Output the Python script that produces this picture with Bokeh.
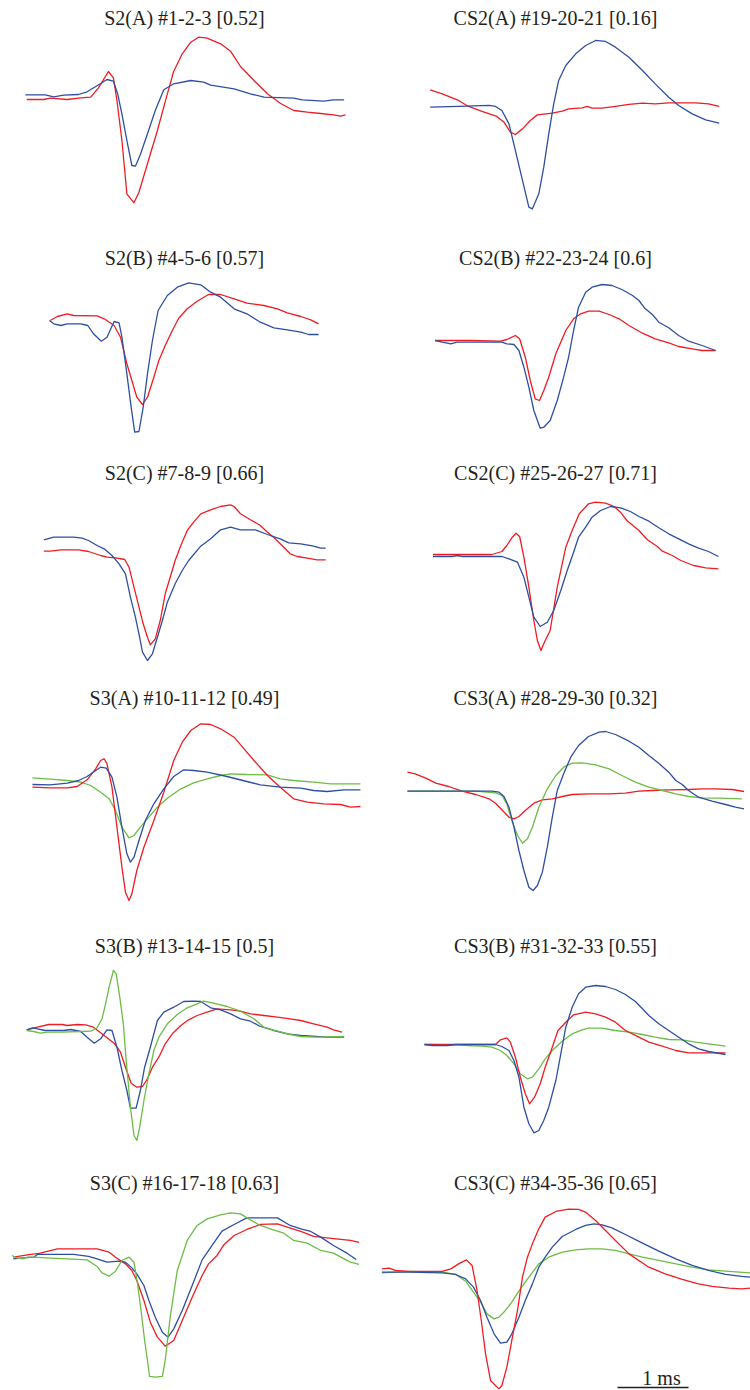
from bokeh.plotting import figure
from bokeh.models import Label, Range1d
from bokeh.layouts import column, row
from bokeh.embed import file_html
from bokeh.resources import INLINE

# ---------------- data: time in ms, amplitude in arbitrary units (µV-like) ----------------
titles = ["S2(A) #1-2-3 [0.52]", "CS2(A) #19-20-21 [0.16]",
          "S2(B) #4-5-6 [0.57]", "CS2(B) #22-23-24 [0.6]",
          "S2(C) #7-8-9 [0.66]", "CS2(C) #25-26-27 [0.71]",
          "S3(A) #10-11-12 [0.49]", "CS3(A) #28-29-30 [0.32]",
          "S3(B) #13-14-15 [0.5]", "CS3(B) #31-32-33 [0.55]",
          "S3(C) #16-17-18 [0.63]", "CS3(C) #34-35-36 [0.65]"]

# S2(A)
s2a_blue_t = [0.35,0.63,0.75,0.89,1.10,1.22,1.36,1.50,1.59,1.65,1.71,1.78,1.85,1.90,1.97,2.07,2.18,2.30,2.44,2.68,2.86,2.96,3.29,3.52,3.71,4.13,4.25,4.55,4.69,4.84]
s2a_blue_v = [0.7,0.7,-1.3,0.3,1.0,3.7,9.7,16,14.3,1.7,-18.3,-45,-70,-70.7,-59,-38.3,-15,5.7,11.7,15,13.3,10.3,6.7,1.7,-1.7,-2.7,-4.3,-5.7,-4.3,-4.3]
s2a_red_t = [0.37,0.61,0.70,0.94,1.13,1.27,1.38,1.52,1.59,1.64,1.71,1.78,1.88,1.95,2.07,2.21,2.35,2.44,2.56,2.68,2.79,2.91,3.10,3.24,3.38,3.57,3.76,3.94,4.13,4.32,4.51,4.69,4.79,4.86]
s2a_red_v = [-4,-4,-2.7,-4,-2.3,-1.7,7.7,24,17.7,-5,-45,-98.3,-107.3,-96.7,-68.3,-35,1.7,24.3,41.7,53.3,58.3,57.3,51.7,44.3,29,15,1.7,-7.7,-15,-16.7,-18,-19.3,-20.7,-19.3]

# CS2(A)
cs2a_blue_t = [0.77,1.17,1.60,1.69,1.78,1.88,1.97,2.07,2.16,2.21,2.30,2.37,2.44,2.51,2.58,2.68,2.82,2.96,3.10,3.24,3.38,3.57,3.76,3.94,4.13,4.27,4.46,4.65,4.84]
cs2a_blue_v = [0,0.7,1.7,0.7,-3.3,-16.7,-43.3,-73.3,-100,-101.7,-86.7,-60,-26.7,3.3,26.7,41.7,53.3,61.7,66.7,65.7,60,50,36.7,23.3,10,1.7,-6.7,-12.7,-16]
cs2a_red_t = [0.77,0.94,1.17,1.31,1.50,1.71,1.81,1.90,1.97,2.07,2.18,2.28,2.49,2.63,2.72,2.91,2.98,3.05,3.19,3.38,3.57,3.76,3.94,4.13,4.51,4.69,4.84]
cs2a_red_v = [17.3,13.3,6.7,0.7,-4.3,-9.3,-15,-25,-27.3,-21.7,-13.3,-7.7,-6,-4,-1.7,-0.7,0.7,-1,-1,0.7,2.7,4,3.3,4.3,4.3,3.3,0.7]

# S2(B)
s2b_blue_t = [0.69,0.75,0.85,0.94,1.13,1.23,1.31,1.42,1.50,1.60,1.67,1.71,1.78,1.84,1.89,1.95,2.01,2.07,2.14,2.22,2.35,2.49,2.65,2.82,2.96,3.10,3.29,3.47,3.66,3.85,4.04,4.23,4.34,4.48]
s2b_blue_v = [0,-3.3,-5,-3.3,-3.3,-5,-13.3,-20.7,-16.7,-1,-2.3,-16.7,-53.3,-86.7,-111.7,-111,-86.7,-53.3,-20,10,25,33.3,37.7,35.7,28.3,23.3,11.7,6.7,-1.7,-7.3,-9.3,-11.7,-14,-14]
s2b_red_t = [0.70,0.80,0.94,1.03,1.36,1.46,1.60,1.69,1.78,1.85,1.92,2.00,2.07,2.16,2.23,2.32,2.42,2.51,2.63,2.77,2.93,3.10,3.29,3.47,3.71,3.90,4.04,4.23,4.37,4.48]
s2b_red_v = [0,4,6.7,5,4.7,1.7,-5,-16.7,-43.3,-60,-76.7,-84,-76.7,-56.7,-40,-25,-10,2.3,11.7,19.3,26,26,21.7,17.3,15,11.7,7.7,4,0.7,-3.3]

# CS2(B)
cs2b_blue_t = [0.84,0.94,1.06,1.15,1.78,1.85,1.95,2.02,2.09,2.16,2.23,2.32,2.37,2.46,2.56,2.65,2.72,2.79,2.86,2.96,3.05,3.19,3.33,3.47,3.62,3.71,3.80,3.90,3.99,4.13,4.27,4.41,4.60,4.79]
cs2b_blue_v = [0,-1.7,-3.3,-1.7,-1.7,-3.3,-4,-10,-26.7,-46.7,-70,-87.7,-86.7,-80,-60,-36.7,-16.7,10,33.3,48.3,53.3,56,55,51,45,40,31.7,26,18.3,12.7,5,-0.7,-5,-10]
cs2b_red_t = [0.84,1.34,1.76,1.85,1.97,2.03,2.11,2.18,2.25,2.31,2.37,2.44,2.54,2.68,2.79,2.89,3.00,3.15,3.29,3.43,3.57,3.76,3.94,4.13,4.27,4.46,4.60,4.79]
cs2b_red_v = [0,0,-0.7,1,5,1.7,-16.7,-40,-58.3,-60,-50,-36.7,-13.3,10,21.7,26.7,29.3,29.3,26,21.7,15,7.3,1.7,-2.3,-6,-8.3,-10,-10]

# S2(C)
s2c_blue_t = [0.61,0.75,1.03,1.15,1.24,1.36,1.46,1.57,1.67,1.76,1.83,1.90,1.95,2.00,2.07,2.14,2.21,2.28,2.35,2.46,2.56,2.65,2.82,2.96,3.10,3.24,3.38,3.59,3.76,3.94,4.06,4.23,4.41,4.51,4.58]
s2c_blue_v = [10.7,13.3,13.3,12.3,10,5,1.7,-5,-13.3,-23.3,-46.7,-66.7,-83.3,-101.7,-110,-103.3,-86.7,-70,-51.7,-33.3,-20,-10,4.3,11.7,20.7,23.3,20.7,20.7,16,11.7,7.7,6.7,4.3,2.3,2.3]
s2c_red_t = [0.61,0.70,0.85,1.10,1.24,1.41,1.50,1.62,1.75,1.81,1.88,1.95,2.01,2.07,2.11,2.18,2.25,2.32,2.39,2.46,2.54,2.63,2.72,2.82,2.96,3.10,3.24,3.29,3.38,3.52,3.66,3.76,3.87,3.99,4.08,4.18,4.32,4.46,4.58]
s2c_red_v = [-0.7,-0.7,0.7,0.7,-1,-5,-6.7,-7.3,-9,-16.7,-36.7,-56.7,-73.3,-86.7,-94.3,-88.3,-70,-43.3,-26.7,-10,5,20,28.3,36.7,40.7,44,45.7,44,36.7,30.7,25,18.3,11.7,3.3,-3.3,-6,-7.7,-9.3,-9.3]

# CS2(C)
cs2c_blue_t = [0.81,1.08,1.15,1.23,1.78,1.88,2.00,2.09,2.16,2.23,2.32,2.42,2.51,2.61,2.70,2.79,2.86,2.96,3.05,3.17,3.31,3.45,3.59,3.71,3.85,3.99,4.13,4.27,4.41,4.55,4.69,4.83]
cs2c_blue_v = [-1,-1,0,-1,-1,-3.3,-6.7,-21.7,-41.7,-61.7,-71,-66.7,-55,-35,-15,3.3,18.3,28.3,38.3,45,49,47.7,44,39,34.3,27.7,21.7,16.7,11.7,7.3,4,-1]
cs2c_red_t = [0.81,1.64,1.78,1.85,1.92,1.98,2.03,2.09,2.16,2.23,2.28,2.33,2.39,2.46,2.56,2.68,2.77,2.87,3.00,3.10,3.24,3.36,3.45,3.54,3.71,3.83,3.97,4.04,4.18,4.30,4.48,4.65,4.83]
cs2c_red_v = [1,1,4,10,17.7,22.3,19,-1.7,-31.7,-65,-85,-95,-85,-75,-31.7,8.3,25,41.7,51.7,53.3,52.3,49,43.3,35,25,15.7,9,4.3,0,-5,-10,-12.3,-13.3]

# S3(A)
s3a_blue_t = [0.45,0.70,0.94,1.10,1.22,1.34,1.41,1.49,1.57,1.64,1.71,1.78,1.83,1.88,1.95,2.04,2.16,2.30,2.44,2.58,2.72,2.91,3.19,3.47,3.66,3.94,4.23,4.41,4.60,4.84,5.07]
s3a_blue_v = [1,0.7,2.3,5,9,15,18.3,17.3,8.3,-11.7,-41.7,-68.3,-76.7,-71.7,-55,-35,-18.3,-3.3,9,15.7,15,13.3,9,4,0.7,-1.7,-2.7,-5,-6,-4.3,-4.3]
s3a_red_t = [0.45,0.70,0.94,1.08,1.22,1.34,1.41,1.46,1.50,1.57,1.64,1.71,1.76,1.81,1.85,1.92,2.02,2.16,2.30,2.44,2.56,2.68,2.82,2.96,3.10,3.29,3.43,3.57,3.76,3.94,4.13,4.32,4.55,4.79,4.93,5.07]
s3a_red_v = [-1.7,-2.3,-2.3,-1,5.7,16.7,25,26.7,21.7,-1.7,-41.7,-81.7,-106.7,-115,-108.3,-85,-61.7,-35,-6.7,25,43.3,55,61.7,61,56.7,48.3,36.7,25,10,-1.7,-13.3,-16.7,-18.3,-19,-21.7,-21]
s3a_green_t = [0.45,0.70,0.94,1.13,1.27,1.41,1.53,1.62,1.71,1.81,1.88,1.97,2.09,2.21,2.35,2.54,2.72,2.91,3.10,3.24,3.47,3.76,3.94,4.13,4.41,4.65,5.07]
s3a_green_v = [7.7,6.3,5,3.3,0,-6.7,-13.3,-25,-41.7,-52.3,-50,-41.7,-31.7,-21.7,-12.7,-3.3,2.7,6.7,10,11.7,11,10.7,6.7,5,3.3,1.7,1.7]

# CS3(A)
cs3a_blue_t = [0.45,1.64,1.74,1.81,1.88,1.95,2.02,2.09,2.16,2.22,2.28,2.35,2.42,2.49,2.56,2.65,2.75,2.86,3.00,3.15,3.24,3.38,3.57,3.71,3.85,3.99,4.13,4.23,4.32,4.41,4.55,4.74,4.93,5.07,5.19]
cs3a_blue_v = [0.3,0.3,-0.7,-5,-15.7,-35.7,-59,-79,-95.7,-99,-94,-80.7,-55.7,-25.7,1,17.7,34.3,46,55,59.3,60,57,50.3,44.3,36,28.3,19.3,11,7,1,-5.7,-9.7,-13,-15.7,-17.3]
cs3a_red_t = [0.45,0.56,0.70,0.85,1.03,1.22,1.41,1.60,1.69,1.78,1.88,1.95,2.02,2.11,2.23,2.35,2.49,2.63,2.77,3.00,3.29,3.52,3.71,3.90,4.13,4.41,4.60,4.79,5.02,5.19]
cs3a_red_v = [19.3,17.7,13.7,8.3,5,0.3,-3,-7.3,-11.7,-18.3,-25.7,-27.3,-25,-19,-11.7,-8.3,-7.3,-5,-3,-2.3,-2.3,-1.7,0.3,1,1.7,2,2.7,2.7,2,0]
cs3a_green_t = [0.45,1.41,1.69,1.78,1.85,1.92,2.00,2.07,2.14,2.21,2.30,2.42,2.54,2.65,2.77,2.91,3.10,3.29,3.47,3.66,3.85,4.04,4.23,4.41,4.60,4.84,5.16]
cs3a_green_v = [0.3,0.3,-1.3,-4,-12.3,-29,-44,-51.7,-47.3,-35.7,-15.7,2.7,16,24.3,28.3,28.7,26.7,22.7,16,9.3,4.3,1,-2.3,-5,-6.3,-6.7,-7.3]

# S3(B)
s3b_blue_t = [0.37,0.45,0.52,0.63,0.89,0.99,1.13,1.22,1.32,1.41,1.50,1.57,1.64,1.71,1.78,1.83,1.91,1.97,2.03,2.11,2.21,2.30,2.44,2.58,2.72,2.82,2.96,3.10,3.24,3.38,3.52,3.66,3.85,4.04,4.23,4.60,4.84]
s3b_blue_v = [0.7,2.7,1.7,0,0,1,-1,-6.7,-12.7,-8.3,0.7,0,-16.7,-40,-60,-77.7,-77.7,-60,-36.7,-16.7,10,18.3,23.3,29,29.3,29,22.7,20.7,16.7,11.7,9.3,4,0,-3.3,-5,-6.7,-6.7]
s3b_red_t = [0.37,0.52,0.68,0.87,0.94,1.08,1.20,1.31,1.46,1.60,1.69,1.76,1.84,1.92,2.00,2.07,2.14,2.23,2.32,2.42,2.54,2.65,2.77,2.91,3.05,3.24,3.38,3.52,3.71,3.90,4.08,4.23,4.41,4.60,4.69,4.81]
s3b_red_v = [0.7,3.3,6,6,5,6,5.7,3.3,-5,-12.7,-21.7,-36.7,-52.7,-56.7,-56,-48.3,-36.7,-26.7,-13.3,-3.3,5,10.7,15,18.3,21.7,20.7,19.3,16.7,15,13.3,11.7,10,6.7,3.3,0.7,-1.7]
s3b_green_t = [0.37,0.47,0.56,0.66,0.85,1.13,1.27,1.36,1.43,1.48,1.53,1.59,1.63,1.68,1.73,1.77,1.83,1.88,1.92,1.96,2.02,2.09,2.16,2.23,2.35,2.49,2.63,2.77,2.86,3.00,3.19,3.38,3.57,3.71,3.90,4.08,4.23,4.46,4.84]
s3b_green_v = [0,-1,-2.7,-1.7,-1.7,-1,-0.7,2.7,11.7,26.7,43.3,60,56.7,33.3,6.7,-30,-76.7,-105,-110,-96.7,-70,-43.3,-20,-6.7,6.7,16,22.7,26.7,29.3,27.3,24,19.3,11.7,3.3,-0.7,-4,-6,-6.7,-6]

# CS3(B)
cs3b_blue_t = [0.69,0.80,1.01,1.13,1.69,1.78,1.88,1.95,2.02,2.09,2.16,2.23,2.30,2.37,2.44,2.54,2.61,2.68,2.77,2.86,2.96,3.10,3.24,3.38,3.52,3.66,3.76,3.85,3.99,4.13,4.27,4.41,4.55,4.69,4.93]
cs3b_blue_v = [0,-1,-1,0,0,-2,-6,-16,-32.7,-62.7,-79.3,-88.3,-86,-76,-62.7,-36,-9.3,17.3,37.3,50.7,57.3,59,58,55,50,43,35.7,29,20.7,14,7.3,0.7,-4.3,-7,-10]
cs3b_red_t = [0.69,1.69,1.76,1.85,1.90,1.97,2.04,2.11,2.17,2.24,2.32,2.39,2.49,2.57,2.68,2.79,2.96,3.10,3.24,3.38,3.52,3.71,3.85,4.04,4.23,4.41,4.93]
cs3b_red_v = [0,0,4.7,6.7,2.3,-12.7,-32.7,-49.3,-59.3,-52.7,-39.3,-22.7,-2.7,14,22.3,29.7,32.3,30.7,27.3,22.3,14,7.3,2.3,-1.7,-6,-8.3,-8.3]
cs3b_green_t = [0.69,1.17,1.36,1.50,1.64,1.76,1.85,1.95,2.04,2.14,2.21,2.30,2.39,2.49,2.63,2.77,2.91,3.00,3.19,3.38,3.57,3.76,3.94,4.13,4.32,4.51,4.69,4.93]
cs3b_green_v = [0,-0.3,-1.3,-1.7,-2.7,-6,-11,-19.3,-29.3,-34.3,-32.7,-24.3,-14.3,-6,3.3,10.7,14.7,16.3,16.3,14,12.3,10,7.3,5,4.7,2.3,0.7,-1.7]

# S3(C)
s3c_blue_t = [0.18,0.28,0.47,0.52,0.70,1.03,1.24,1.36,1.50,1.67,1.76,1.85,1.92,2.02,2.09,2.18,2.28,2.36,2.44,2.56,2.70,2.84,2.98,3.12,3.29,3.47,3.71,3.90,4.08,4.23,4.37,4.51,4.69,4.88,5.01]
s3c_blue_v = [-1.7,-1,0,2.7,2.7,2.7,0.7,-1.7,-5,-4,-5,-10.7,-16.7,-28.3,-43.3,-60,-75,-80,-71.7,-53.3,-28.3,-2.7,11.7,26,32.7,39.3,39.3,39.3,31.7,28.3,25.7,20,11.7,4,-2.3]
s3c_red_t = [0.18,0.38,0.56,0.80,0.99,1.36,1.53,1.62,1.76,1.85,1.92,2.02,2.11,2.21,2.32,2.44,2.56,2.70,2.84,2.93,3.05,3.15,3.29,3.47,3.66,3.90,4.04,4.23,4.41,4.60,4.79,4.93,5.05]
s3c_red_v = [0,2.3,4,8.3,8.3,8.3,5,0,-6.7,-13.3,-23.3,-43.3,-65,-80,-89,-83.3,-63.3,-40,-18.3,-6.7,1.7,12.7,21.7,27.7,32.7,33.3,30,25.7,20.7,19.3,17.7,16.7,14.7]
s3c_green_t = [0.16,0.23,0.31,0.38,0.47,0.70,0.94,1.22,1.36,1.43,1.53,1.62,1.71,1.81,1.88,1.93,1.98,2.03,2.07,2.10,2.18,2.28,2.32,2.39,2.49,2.63,2.77,2.91,3.10,3.24,3.38,3.52,3.66,3.80,3.99,4.13,4.32,4.51,4.69,4.84,4.93,5.05]
s3c_green_v = [1.7,-0.7,-1.7,0,0,-1,-1.7,-2.7,-9.3,-15.7,-19,-14,-3.3,0,-5,-26.7,-53.3,-83.3,-103.3,-119.3,-120,-119.3,-103.3,-60,-13.3,16.7,31.7,38.3,42.3,44.3,43.3,37.3,31.7,28.3,24,16.7,14,6.7,4,-1.7,-5,-7.3]

# CS3(C)
cs3c_blue_t = [0.09,0.47,0.94,1.13,1.27,1.38,1.48,1.57,1.67,1.76,1.85,1.92,2.02,2.11,2.21,2.30,2.39,2.49,2.63,2.82,2.96,3.08,3.19,3.33,3.52,3.76,3.99,4.23,4.46,4.69,4.93,5.16,5.28]
cs3c_blue_v = [0,0,-0.7,-2.3,-6.7,-15,-28.3,-45,-61.7,-71,-70,-61.7,-45,-28.3,-11.7,5,15,25,35.7,42.7,46.7,48.3,47.3,44.3,37.7,29,21,13.3,6.7,1.7,-2.3,-4.3,-5]
cs3c_red_t = [0.09,0.19,0.28,0.47,0.94,1.06,1.17,1.28,1.36,1.43,1.49,1.55,1.62,1.69,1.74,1.78,1.85,1.92,2.00,2.07,2.14,2.21,2.30,2.39,2.54,2.72,2.86,2.96,3.10,3.24,3.38,3.57,3.85,4.08,4.32,4.55,4.74,4.98,5.16,5.28]
cs3c_red_v = [3.3,4,1.7,0.7,0.7,3.3,8.3,12.3,6.7,-18.3,-48.3,-81.7,-108.3,-113.3,-116.7,-113.3,-95,-68.3,-38.3,-5,15,28.3,43.3,55,60.7,63,62.7,60,51.7,41.7,31.7,18.3,5,-1.7,-7.3,-11.7,-14.3,-16,-16.7,-16]
cs3c_green_t = [0.09,0.47,0.94,1.13,1.27,1.38,1.48,1.57,1.67,1.74,1.83,1.92,2.04,2.16,2.30,2.44,2.63,2.82,3.00,3.19,3.38,3.57,3.76,3.99,4.23,4.46,4.69,4.98,5.28]
cs3c_green_v = [-0.7,0.7,0,-2.3,-9,-20,-30,-41.7,-46.7,-45,-38.3,-30,-16.7,-5,8.3,15,20,22.3,23.3,23.3,21.7,18.3,15,11.7,8.3,5,2.3,0.7,-0.7]

scale_bar_ms = 1.0
scale_label = "1 ms"

# ---------------- styling / layout (page pixels) ----------------
RED, BLUE, GREEN = "#EE1D23", "#2D4FA3", "#6CBD45"
FONT = "Liberation Serif"
PX_PER_MS = 71.0
ROW_TOP = [0, 248, 463, 688, 936, 1173]
ROW_H = [248, 215, 225, 248, 237, 216]
TITLE_Y = [17, 257, 472, 697, 945, 1182]
COL_LEFT = [0, 375]
COL_W = [375, 375]
COL_T0 = [0, 375]          # page x where t = 0 ms
TITLE_CX = [184, 555]
BASE_PX = [95, 106.67, 320, 340, 550, 555, 785, 791, 1030, 1044, 1256.67, 1271.67]
BAR_X0_PX, BAR_Y_PX, BAR_LABEL_Y_PX = 617, 1387, 1377

panels = [
    [(RED, s2a_red_t, s2a_red_v), (BLUE, s2a_blue_t, s2a_blue_v)],
    [(RED, cs2a_red_t, cs2a_red_v), (BLUE, cs2a_blue_t, cs2a_blue_v)],
    [(RED, s2b_red_t, s2b_red_v), (BLUE, s2b_blue_t, s2b_blue_v)],
    [(RED, cs2b_red_t, cs2b_red_v), (BLUE, cs2b_blue_t, cs2b_blue_v)],
    [(RED, s2c_red_t, s2c_red_v), (BLUE, s2c_blue_t, s2c_blue_v)],
    [(RED, cs2c_red_t, cs2c_red_v), (BLUE, cs2c_blue_t, cs2c_blue_v)],
    [(GREEN, s3a_green_t, s3a_green_v), (RED, s3a_red_t, s3a_red_v), (BLUE, s3a_blue_t, s3a_blue_v)],
    [(RED, cs3a_red_t, cs3a_red_v), (GREEN, cs3a_green_t, cs3a_green_v), (BLUE, cs3a_blue_t, cs3a_blue_v)],
    [(RED, s3b_red_t, s3b_red_v), (BLUE, s3b_blue_t, s3b_blue_v), (GREEN, s3b_green_t, s3b_green_v)],
    [(GREEN, cs3b_green_t, cs3b_green_v), (RED, cs3b_red_t, cs3b_red_v), (BLUE, cs3b_blue_t, cs3b_blue_v)],
    [(RED, s3c_red_t, s3c_red_v), (BLUE, s3c_blue_t, s3c_blue_v), (GREEN, s3c_green_t, s3c_green_v)],
    [(GREEN, cs3c_green_t, cs3c_green_v), (BLUE, cs3c_blue_t, cs3c_blue_v), (RED, cs3c_red_t, cs3c_red_v)],
]

figs = []
for i, traces in enumerate(panels):
    r, c = divmod(i, 2)
    top, h = ROW_TOP[r], ROW_H[r]
    x0 = (COL_LEFT[c] - COL_T0[c]) / PX_PER_MS
    x1 = (COL_LEFT[c] + COL_W[c] - COL_T0[c]) / PX_PER_MS
    yb = BASE_PX[i]
    p = figure(width=COL_W[c], height=h,
               x_range=Range1d(x0, x1), y_range=Range1d(yb - (top + h), yb - top),
               output_backend="svg", toolbar_location=None,
               x_axis_location=None, y_axis_location=None,
               min_border=0, min_border_left=0, min_border_right=0,
               min_border_top=0, min_border_bottom=0,
               outline_line_color=None, background_fill_color="white",
               border_fill_color="white")
    p.grid.grid_line_color = None
    for color, t, v in traces:
        p.line(t, v, line_color=color, line_width=1.3, line_join="round")
    p.add_layout(Label(x=(TITLE_CX[c] - COL_T0[c]) / PX_PER_MS, y=yb - TITLE_Y[r],
                       text=titles[i], text_align="center", text_baseline="middle",
                       text_font=FONT, text_font_size="20px", text_color="#231F20"))
    if i == 11:
        bar_x0 = (BAR_X0_PX - COL_T0[c]) / PX_PER_MS
        bar_y = yb - BAR_Y_PX
        p.line([bar_x0, bar_x0 + scale_bar_ms], [bar_y, bar_y], line_color="#231F20", line_width=1.3)
        p.add_layout(Label(x=bar_x0 + scale_bar_ms / 2 + 0.12, y=yb - BAR_LABEL_Y_PX, text=scale_label,
                           text_align="center", text_baseline="middle",
                           text_font=FONT, text_font_size="20px", text_color="#231F20"))
    figs.append(p)

layout = column(*[row(figs[2 * r], figs[2 * r + 1]) for r in range(6)])
open("out.html", "w").write(file_html(layout, INLINE))
